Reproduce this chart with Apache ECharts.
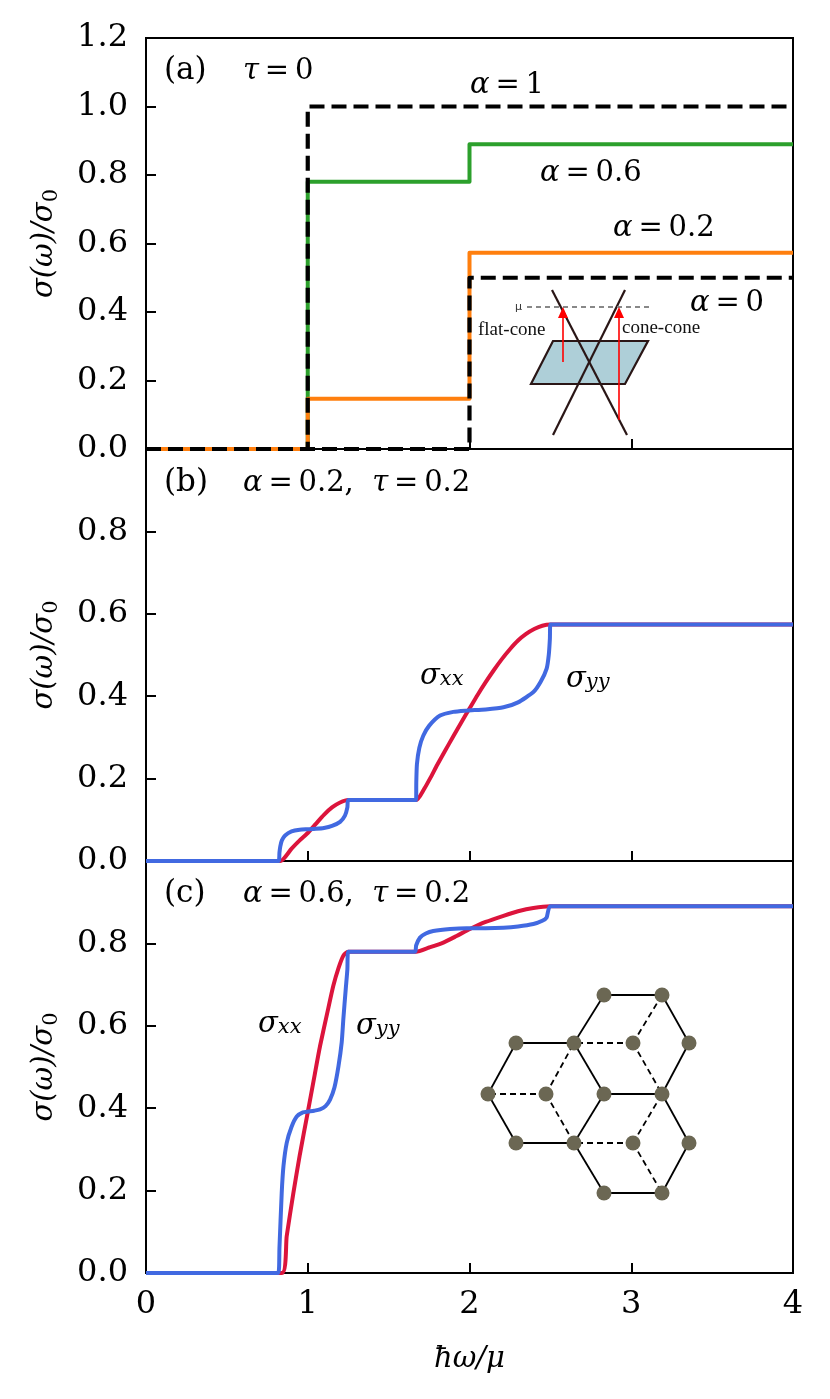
<!DOCTYPE html>
<html>
<head>
<meta charset="utf-8">
<script src="https://cdn.jsdelivr.net/npm/echarts@6/dist/echarts.min.js"></script>
<style>html,body{margin:0;padding:0;background:#fff}#main{width:830px;height:1399px}</style>
</head>
<body>
<div id="main"></div>
<script>
// panel (a), tau = 0: step curves
const a1X = [0, 1, 1, 4]
const a1Y = [0, 0, 1.0, 1.0]
const a06X = [0, 1, 1, 2, 2, 4]
const a06Y = [0, 0, 0.78, 0.78, 0.89, 0.89]
const a02X = [0, 1, 1, 2, 2, 4]
const a02Y = [0, 0, 0.147, 0.147, 0.573, 0.573]
const a0X = [0, 2, 2, 4]
const a0Y = [0, 0, 0.5, 0.5]

// panel (b), alpha = 0.2, tau = 0.2
const bXxX = [0, 0.83, 0.9, 0.95, 1.0, 1.05, 1.1, 1.15, 1.2, 1.25, 1.67, 1.72, 1.76, 1.8, 1.85, 1.9, 1.95, 2.0, 2.05, 2.1, 2.15, 2.2, 2.25, 2.3, 2.35, 2.4, 2.45, 2.5, 4]
const bXxY = [0, 0, 0.03, 0.05, 0.068, 0.09, 0.112, 0.13, 0.142, 0.148, 0.148, 0.175, 0.203, 0.233, 0.268, 0.303, 0.337, 0.37, 0.403, 0.434, 0.463, 0.49, 0.514, 0.535, 0.551, 0.563, 0.571, 0.574, 0.574]
const bYyX = [0, 0.82, 0.825, 0.83, 0.84, 0.86, 0.9, 0.95, 1.0, 1.05, 1.1, 1.15, 1.2, 1.23, 1.245, 1.25, 1.67, 1.671, 1.675, 1.69, 1.714, 1.75, 1.818, 1.9, 1.982, 2.1, 2.21, 2.3, 2.395, 2.44, 2.477, 2.49, 2.497, 2.5, 4]
const bYyY = [0, 0, 0.02, 0.035, 0.05, 0.062, 0.072, 0.076, 0.077, 0.078, 0.08, 0.085, 0.095, 0.11, 0.13, 0.148, 0.148, 0.19, 0.235, 0.275, 0.304, 0.328, 0.353, 0.362, 0.365, 0.368, 0.373, 0.385, 0.41, 0.435, 0.467, 0.5, 0.54, 0.574, 0.574]

// panel (c), alpha = 0.6, tau = 0.2
const cXxX = [0, 0.84, 0.87, 0.911, 0.95, 1.0, 1.04, 1.076, 1.12, 1.158, 1.19, 1.22, 1.25, 1.67, 1.75, 1.838, 1.92, 2.003, 2.1, 2.21, 2.3, 2.395, 2.5, 4]
const cXxY = [0, 0, 0.09, 0.194, 0.285, 0.39, 0.475, 0.551, 0.63, 0.697, 0.74, 0.77, 0.78, 0.78, 0.79, 0.802, 0.818, 0.835, 0.852, 0.867, 0.878, 0.886, 0.89, 0.89]
const cYyX = [0, 0.818, 0.825, 0.839, 0.85, 0.87, 0.9, 0.932, 0.97, 1.004, 1.04, 1.076, 1.11, 1.138, 1.165, 1.19, 1.21, 1.22, 1.235, 1.245, 1.25, 1.663, 1.67, 1.694, 1.73, 1.776, 1.88, 1.982, 2.1, 2.21, 2.3, 2.395, 2.45, 2.477, 2.5, 4]
const cYyY = [0, 0, 0.06, 0.194, 0.26, 0.316, 0.355, 0.38, 0.39, 0.392, 0.394, 0.397, 0.405, 0.421, 0.45, 0.502, 0.56, 0.616, 0.69, 0.737, 0.78, 0.78, 0.795, 0.814, 0.824, 0.83, 0.835, 0.837, 0.837, 0.838, 0.841, 0.847, 0.855, 0.863, 0.89, 0.89]

const xTicks = [0, 1, 2, 3, 4]

const pairs = (xs, ys) => xs.map((x, i) => [x, ys[i]])
const serif = 'DejaVu Serif'
const eq = '\u2009=\u2009'
const grids = [
    { left: 146, top: 38, width: 647, height: 411 },
    { left: 146, top: 449, width: 647, height: 412 },
    { left: 146, top: 861, width: 647, height: 412 }
].map(g => Object.assign(g, { show: true, borderColor: '#000', borderWidth: 2 }))

const tickStyle = { show: true, inside: true, length: 10, lineStyle: { color: '#000', width: 2 } }
const yName = {
    name: '{i|σ(ω)/σ}{s|0}',
    nameLocation: 'middle',
    nameGap: 84,
    nameRotate: 90,
    nameTextStyle: {
        rich: {
            i: { fontFamily: serif, fontStyle: 'italic', fontSize: 29, color: '#000', lineHeight: 36 },
            s: { fontFamily: serif, fontSize: 21, color: '#000', verticalAlign: 'bottom', lineHeight: 27 }
        }
    }
}

function xAxis(idx, labels) {
    return {
        type: 'value', gridIndex: idx, min: xTicks[0], max: xTicks[xTicks.length - 1], interval: 1,
        axisLine: { show: false }, axisTick: tickStyle, splitLine: { show: false },
        axisLabel: { show: labels, fontFamily: serif, fontSize: 32, color: '#000', margin: 16 },
        name: labels ? 'ħω/μ' : '', nameLocation: 'middle', nameGap: 72,
        nameTextStyle: { fontFamily: serif, fontStyle: 'italic', fontSize: 29, color: '#000' }
    }
}
function yAxis(idx, max, hideTop) {
    return Object.assign({
        type: 'value', gridIndex: idx, min: 0, max: max, interval: 0.2,
        axisLine: { show: false }, axisTick: tickStyle, splitLine: { show: false },
        axisLabel: {
            fontFamily: serif, fontSize: 32, color: '#000', margin: 18,
            formatter: v => (hideTop && v > 0.99) ? '' : v.toFixed(1)
        }
    }, yName)
}

function line(idx, xs, ys, color, dashed, z) {
    return {
        type: 'line', xAxisIndex: idx, yAxisIndex: idx, data: pairs(xs, ys),
        showSymbol: false, symbol: 'none', z: z, animation: false,
        lineStyle: { color: color, width: dashed ? 4.2 : 4, type: dashed ? [15, 7] : 'solid', join: 'round' }
    }
}
function smoothLine(idx, xs, ys, color, z) {
    const s = line(idx, xs, ys, color, false, z)
    s.smooth = 0.2
    return s
}

// text helpers
const mathRich = {
    i: { fontFamily: serif, fontStyle: 'italic', fontSize: 29, fill: '#000' },
    n: { fontFamily: serif, fontSize: 29, fill: '#000' },
    p: { fontFamily: serif, fontSize: 31, fill: '#000' },
    s: { fontFamily: serif, fontStyle: 'italic', fontSize: 21, fill: '#000', verticalAlign: 'bottom', lineHeight: 22 }
}
function label(x, y, text) {
    return { type: 'text', x: x, y: y, z: 50, style: { text: text, rich: mathRich, verticalAlign: 'middle', align: 'left' } }
}

// inset (a): cone sketch
const insetA = [
    { type: 'polygon', shape: { points: [[553, 341], [648, 341], [625, 384], [531, 384]] },
      style: { fill: '#aecfd8', stroke: '#2a1616', lineWidth: 2.2 }, z: 40 },
    { type: 'line', shape: { x1: 552, y1: 290, x2: 627, y2: 435 }, style: { stroke: '#2a1616', lineWidth: 2.2 }, z: 41 },
    { type: 'line', shape: { x1: 625, y1: 290, x2: 553, y2: 435 }, style: { stroke: '#2a1616', lineWidth: 2.2 }, z: 41 },
    { type: 'line', shape: { x1: 527, y1: 307, x2: 652, y2: 307 }, style: { stroke: '#888', lineWidth: 2.2, lineDash: [5, 4] }, z: 41 },
    { type: 'text', x: 522, y: 307, z: 42, style: { text: 'μ', fontSize: 11, fill: '#333', fontFamily: 'DejaVu Sans', align: 'right', verticalAlign: 'middle' } },
    { type: 'line', shape: { x1: 563, y1: 362, x2: 563, y2: 316 }, style: { stroke: '#f00', lineWidth: 1.6 }, z: 42 },
    { type: 'polygon', shape: { points: [[563, 307], [558, 318], [568, 318]] }, style: { fill: '#f00' }, z: 42 },
    { type: 'line', shape: { x1: 619, y1: 420, x2: 619, y2: 316 }, style: { stroke: '#f00', lineWidth: 1.6 }, z: 42 },
    { type: 'polygon', shape: { points: [[619, 307], [614, 318], [624, 318]] }, style: { fill: '#f00' }, z: 42 },
    { type: 'text', x: 478, y: 330, z: 42, style: { text: 'flat-cone', fontSize: 19, fill: '#111', fontFamily: 'Liberation Serif', verticalAlign: 'middle' } },
    { type: 'text', x: 622, y: 328, z: 42, style: { text: 'cone-cone', fontSize: 19, fill: '#111', fontFamily: 'Liberation Serif', verticalAlign: 'middle' } }
]

// inset (c): lattice sketch
const nodes = [[604, 995], [662, 995], [516, 1043], [574, 1043], [633, 1043], [689, 1043], [488, 1094], [546, 1094],
    [604, 1094], [662, 1094], [516, 1143], [574, 1143], [633, 1143], [689, 1143], [604, 1193], [662, 1193]]
const solidEdges = [[6, 2], [2, 3], [3, 8], [8, 11], [11, 10], [10, 6], [3, 0], [0, 1], [1, 5], [5, 9], [9, 8],
    [9, 13], [13, 15], [15, 14], [14, 11]]
const dashEdges = [[7, 6], [7, 3], [7, 11], [4, 3], [4, 1], [4, 9], [12, 11], [12, 9], [12, 15]]
const insetC = []
solidEdges.forEach(e => insetC.push({ type: 'line', z: 40, shape: { x1: nodes[e[0]][0], y1: nodes[e[0]][1], x2: nodes[e[1]][0], y2: nodes[e[1]][1] }, style: { stroke: '#000', lineWidth: 1.8 } }))
dashEdges.forEach(e => insetC.push({ type: 'line', z: 40, shape: { x1: nodes[e[0]][0], y1: nodes[e[0]][1], x2: nodes[e[1]][0], y2: nodes[e[1]][1] }, style: { stroke: '#000', lineWidth: 1.8, lineDash: [6, 4] } }))
nodes.forEach(n => insetC.push({ type: 'circle', z: 41, shape: { cx: n[0], cy: n[1], r: 7.5 }, style: { fill: '#6b6753' } }))

const texts = [
    label(164, 71, '{p|(a)}'), label(243, 71, '{i|τ}{n|' + eq + '0}'),
    label(470, 85, '{i|α}{n|' + eq + '1}'),
    label(540, 173, '{i|α}{n|' + eq + '0.6}'),
    label(613, 228, '{i|α}{n|' + eq + '0.2}'),
    label(690, 303, '{i|α}{n|' + eq + '0}'),
    label(164, 483, '{p|(b)}'), label(243, 483, '{i|α}{n|' + eq + '0.2,  }{i|τ}{n|' + eq + '0.2}'),
    label(420, 676, '{i|σ}{s|xx}'), label(566, 679, '{i|σ}{s|yy}'),
    label(164, 894, '{p|(c)}'), label(243, 894, '{i|α}{n|' + eq + '0.6,  }{i|τ}{n|' + eq + '0.2}'),
    label(258, 1024, '{i|σ}{s|xx}'), label(356, 1026, '{i|σ}{s|yy}')
]

const chart = echarts.init(document.getElementById('main'), null, { renderer: 'canvas' })
chart.setOption({
    backgroundColor: '#fff',
    animation: false,
    grid: grids,
    xAxis: [xAxis(0, false), xAxis(1, false), xAxis(2, true)],
    yAxis: [yAxis(0, 1.2, false), yAxis(1, 1.0, true), yAxis(2, 1.0, true)],
    series: [
        line(0, a06X, a06Y, '#2ca02c', false, 2),
        line(0, a02X, a02Y, '#ff7f0e', false, 2),
        line(0, a1X, a1Y, '#000', true, 3),
        line(0, a0X, a0Y, '#000', true, 3),
        smoothLine(1, bXxX, bXxY, '#dc143c', 2),
        smoothLine(1, bYyX, bYyY, '#4169e1', 3),
        smoothLine(2, cXxX, cXxY, '#dc143c', 2),
        smoothLine(2, cYyX, cYyY, '#4169e1', 3)
    ],
    graphic: texts.concat(insetA, insetC)
})
</script>
</body>
</html>
